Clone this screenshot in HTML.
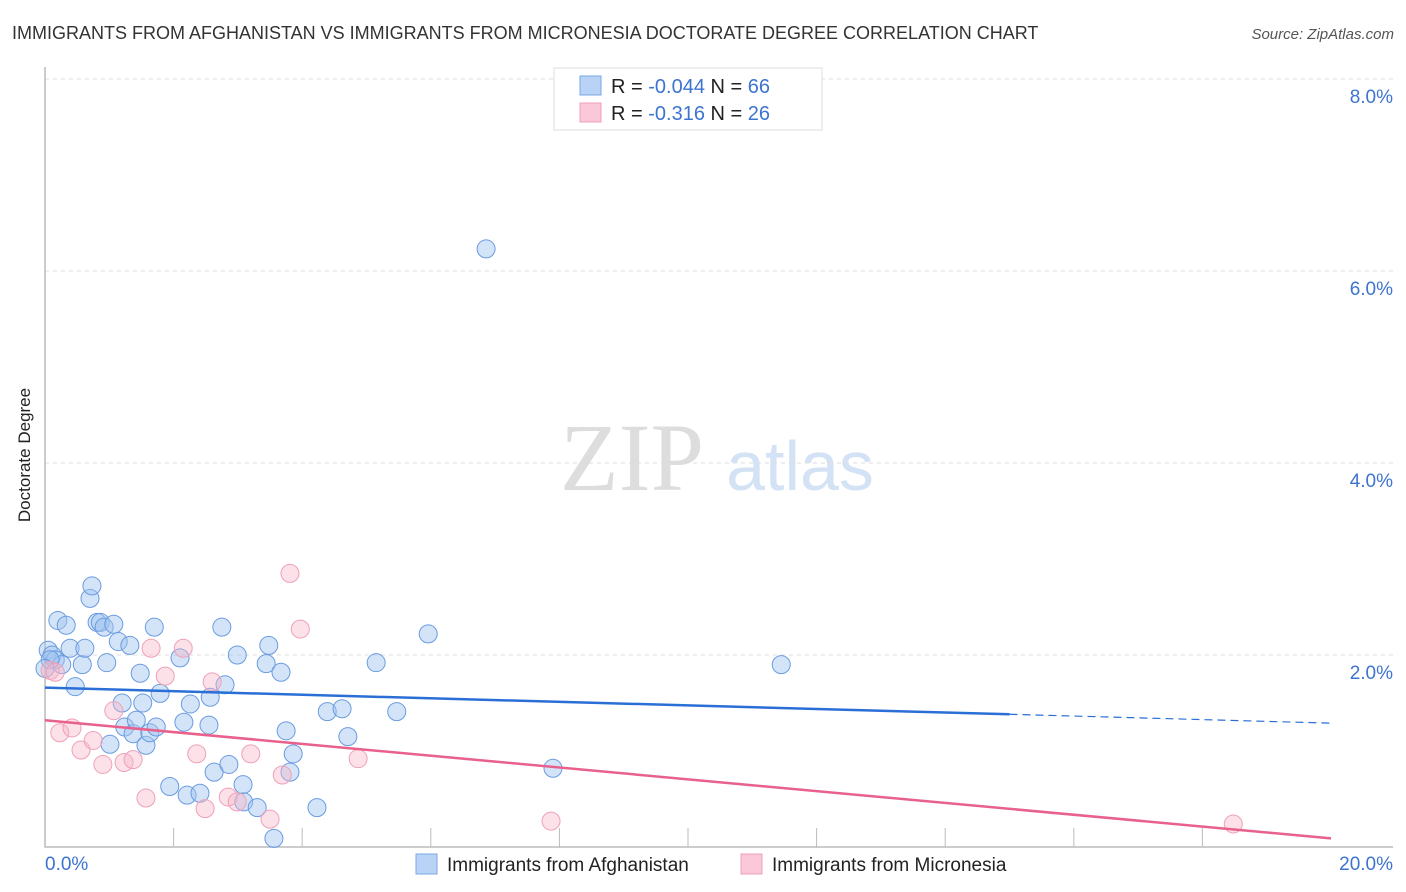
<!DOCTYPE html>
<html><head><meta charset="utf-8"><style>
body{margin:0;background:#fff;font-family:"Liberation Sans",sans-serif;}
svg{display:block}
</style></head><body>
<svg id="chart" width="1406" height="892">
<text x="12" y="39" font-size="18" fill="#333">IMMIGRANTS FROM AFGHANISTAN VS IMMIGRANTS FROM MICRONESIA DOCTORATE DEGREE CORRELATION CHART</text>
<text x="1394" y="39" font-size="15" fill="#555" font-style="italic" text-anchor="end">Source: ZipAtlas.com</text>
<text x="30" y="455" font-size="17" fill="#222" transform="rotate(-90 30 455)" text-anchor="middle">Doctorate Degree</text>
<text x="632" y="490" font-size="96" fill="#ddd" font-family="Liberation Serif,serif" text-anchor="middle">ZIP</text>
<text x="800" y="490" font-size="70" fill="#d4e2f5" text-anchor="middle">atlas</text>
<g id="grid"></g><g id="axes"></g><g id="pts"></g><g id="trends"></g>
<g>
<rect x="554" y="68" width="268" height="62" fill="#fff" stroke="#ddd"/>
<rect x="580" y="76" width="21" height="19" fill="#b8d3f5" stroke="#7aa7e6"/>
<rect x="580" y="103" width="21" height="19" fill="#fac8d8" stroke="#f0a0b8"/>
<text x="611" y="93" font-size="20" fill="#222">R = <tspan fill="#3d74d0">-0.044</tspan>   N = <tspan fill="#3d74d0">66</tspan></text>
<text x="611" y="120" font-size="20" fill="#222">R =  <tspan fill="#3d74d0"> -0.316</tspan>   N = <tspan fill="#3d74d0">26</tspan></text>
</g>
<g>
<rect x="416" y="854" width="21" height="20" fill="#b8d3f5" stroke="#7aa7e6"/>
<text x="447" y="871" font-size="19" fill="#222">Immigrants from Afghanistan</text>
<rect x="741" y="854" width="21" height="20" fill="#fac8d8" stroke="#f0a0b8"/>
<text x="772" y="871" font-size="19" fill="#222">Immigrants from Micronesia</text>
</g>
</svg>
<script>
const yTicks=[2,4,6,8];
const xTickLabels=["0.0%","20.0%"];
const blueX=[0.05,0.11,0.16,0.20,0.33,0.26,0.39,0.47,0.58,0.62,0.70,0.73,0.81,0.86,0.92,0.96,1.01,1.07,1.14,1.20,1.24,1.32,1.37,1.42,1.48,1.52,1.57,1.63,1.70,1.73,1.79,1.94,2.10,2.16,2.21,2.26,2.41,2.55,2.57,2.63,2.75,2.80,2.86,2.99,3.08,3.09,3.30,3.44,3.48,3.56,3.67,3.75,3.81,3.86,4.23,4.39,4.62,4.71,5.15,5.47,5.96,6.86,7.90,11.45,0.08,0.0];
const blueY=[2.05,2.00,1.95,2.36,2.31,1.90,2.07,1.67,1.90,2.07,2.59,2.72,2.34,2.34,2.29,1.92,1.07,2.32,2.14,1.50,1.25,2.10,1.18,1.32,1.81,1.50,1.06,1.19,2.29,1.25,1.60,0.63,1.97,1.30,0.54,1.49,0.56,1.27,1.56,0.78,2.29,1.69,0.86,2.00,0.65,0.47,0.41,1.91,2.10,0.09,1.82,1.21,0.78,0.97,0.41,1.41,1.44,1.15,1.92,1.41,2.22,6.23,0.82,1.90,1.95,1.86];
const pinkX=[0.08,0.16,0.23,0.42,0.56,0.75,0.90,1.07,1.23,1.37,1.57,1.65,1.87,2.15,2.36,2.49,2.60,2.85,2.99,3.20,3.50,3.69,3.81,3.97,4.87,7.87,18.48];
const pinkY=[1.84,1.82,1.19,1.24,1.01,1.11,0.86,1.42,0.88,0.91,0.51,2.07,1.78,2.07,0.97,0.40,1.72,0.52,0.47,0.97,0.29,0.75,2.85,2.27,0.92,0.27,0.24];
const blueTrend=[1.66,1.29];
const pinkTrend=[1.32,0.09];
const blueSolidEnd=15.0;
const NS="http://www.w3.org/2000/svg";
const sx=v=>45+v*64.3, sy=v=>847-v*96;
function mk(t,a,p){const e=document.createElementNS(NS,t);for(const k in a)e.setAttribute(k,a[k]);p.appendChild(e);return e;}
const grid=document.getElementById('grid'),axes=document.getElementById('axes'),pts=document.getElementById('pts'),tr=document.getElementById('trends');
yTicks.forEach(t=>{
 const l=mk('line',{x1:45,x2:1393,y1:sy(t),y2:sy(t),stroke:'#ddd','stroke-dasharray':'4,4'},grid);
 
 
 const tx=mk('text',{x:1393,y:sy(t)+24,'font-size':19,fill:'#3d74d0','text-anchor':'end'},grid);
 tx.textContent=t.toFixed(1)+'%';
 
 
});
const ax=mk('path',{d:'M45 67V847H1393',fill:'none',stroke:'#bbb','stroke-width':1.5},axes);


for(let i=2;i<20;i+=2){const t=mk('line',{x1:sx(i),x2:sx(i),y1:828,y2:847,stroke:'#bbb'},axes);
 
 }
[[0,'start'],[20,'end']].forEach((p,i)=>{const t=mk('text',{x:i?1393:45,y:870,'font-size':19,fill:'#3d74d0','text-anchor':p[1]},axes);
 t.textContent=xTickLabels[i];
 
 });
blueX.forEach((x,i)=>{const c=mk('circle',{cx:sx(x),cy:sy(blueY[i]),r:9,fill:'rgba(160,196,240,0.45)',stroke:'#6a9be0','stroke-width':1},pts);
 
 });
pinkX.forEach((x,i)=>{const c=mk('circle',{cx:sx(x),cy:sy(pinkY[i]),r:9,fill:'rgba(248,180,200,0.4)',stroke:'#eea0b8','stroke-width':1},pts);
 
 });
const by=x=>blueTrend[0]+(blueTrend[1]-blueTrend[0])*x/20;
let l1=mk('line',{x1:sx(0),y1:sy(by(0)),x2:sx(blueSolidEnd),y2:sy(by(blueSolidEnd)),stroke:'#2a6fd6','stroke-width':2.5},tr);


let l2=mk('line',{x1:sx(blueSolidEnd),y1:sy(by(blueSolidEnd)),x2:sx(20),y2:sy(by(20)),stroke:'#2a6fd6','stroke-width':1.2,'stroke-dasharray':'8,5'},tr);


let l3=mk('line',{x1:sx(0),y1:sy(pinkTrend[0]),x2:sx(20),y2:sy(pinkTrend[1]),stroke:'#e8608c','stroke-width':2.5},tr);


</script>
</body></html>
